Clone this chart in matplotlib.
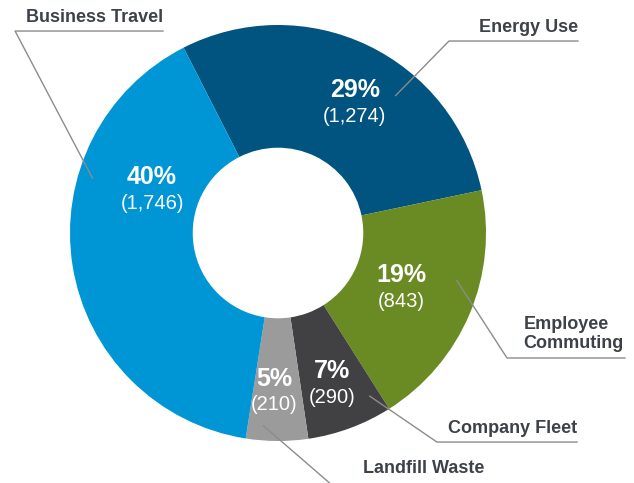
import matplotlib
matplotlib.use('Agg')
import matplotlib.pyplot as plt
import numpy as np

# emissions by source (order: clockwise from the top)
categorias = ['Energy Use', 'Employee\nCommuting', 'Company Fleet', 'Landfill Waste', 'Business Travel']
valores = [1274, 843, 290, 210, 1746]
cores = ['#00547f', '#6a8a23', '#414143', '#9b9b9b', '#0096d6']

# posição dos rótulos internos: desvio angular (graus) e raio
desvio_ang = [-5, -1, -0.5, -1, -28]
raio_rot = [0.726, 0.65, 0.77, 0.76, 0.64]
# linhas de chamada: desvio angular e raio da ponta, cotovelo, fim da linha
desvio_ponta = [-15, 8, 9, -4, -25.5]
raio_ponta = [0.87, 0.89, 0.90, 0.93, 0.93]
cotovelos = [(0.822, 0.923), (1.101, -0.601), (0.764, -1.005), (0.284, -1.233), (-1.264, 0.971)]
fim_linha = [1.442, 1.668, 1.4375, 1.02, -0.553]

fig = plt.figure(figsize=(6.34, 4.83), dpi=100)
ax = fig.add_axes([0, 0, 1, 1])

wedges, _ = ax.pie(valores, colors=cores, startangle=117, counterclock=False,
                   radius=1, wedgeprops=dict(width=0.59, linewidth=0))

total = sum(valores)
fonte = ['Liberation Sans', 'DejaVu Sans']
cor_txt = '#3d4249'

for i, w in enumerate(wedges):
    meio = (w.theta1 + w.theta2) / 2
    ang = np.deg2rad(meio + desvio_ang[i])
    x, y = raio_rot[i] * np.cos(ang), raio_rot[i] * np.sin(ang)
    pct = round(100 * valores[i] / total)
    ax.text(x, y + 0.06, f'{pct}%', color='white', fontsize=18, fontweight='bold',
            family=fonte, ha='center', va='center')
    ax.text(x, y - 0.065, f'({valores[i]:,})', color='white', fontsize=14.5,
            family=fonte, ha='center', va='center')

    # linha de chamada
    a2 = np.deg2rad(meio + desvio_ponta[i])
    px, py = raio_ponta[i] * np.cos(a2), raio_ponta[i] * np.sin(a2)
    ex, ey = cotovelos[i]
    ax.plot([px, ex, fim_linha[i]], [py, ey, ey], color='#8c8c8c', lw=1, clip_on=True)

    # texto do rótulo externo
    if i == 1:
        ax.text(ex + 0.08, ey + 0.115, categorias[i], color=cor_txt, fontsize=13,
                fontweight='bold', family=fonte, ha='left', va='center',
                linespacing=1.15)
    elif i == 3:
        ax.text(0.99, -1.13, categorias[i], color=cor_txt, fontsize=13,
                fontweight='bold', family=fonte, ha='right', va='center')
    else:
        ax.text(fim_linha[i], ey + 0.065, categorias[i], color=cor_txt, fontsize=13,
                fontweight='bold', family=fonte, ha='right', va='center')

ax.set_xlim(-278 / 208, (634 - 278) / 208)
ax.set_ylim((233 - 483) / 208, 233 / 208)
ax.set_aspect('auto')
ax.axis('off')

plt.savefig('out.png', dpi=100)
